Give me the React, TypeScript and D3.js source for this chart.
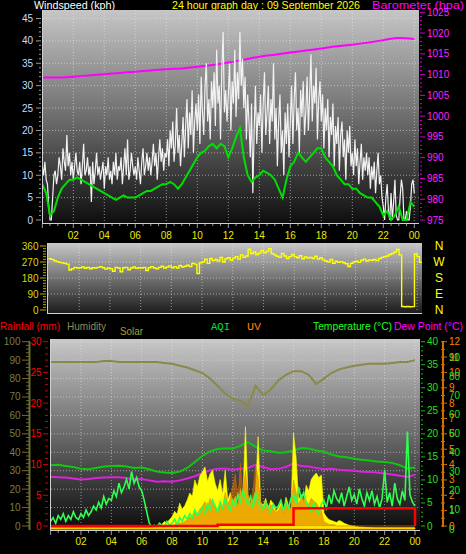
import React from "react";
import * as d3 from "d3";

const FONT = "'Liberation Sans', Arial, sans-serif";

const hourLabels = ["02", "04", "06", "08", "10", "12", "14", "16", "18", "20", "22", "00"];
const labelHours = [2, 4, 6, 8, 10, 12, 14, 16, 18, 20, 22, 24];
const compassLabels = ["N", "W", "S", "E", "N"];
const compassDeg = [360, 270, 180, 90, 0];

// wind gust, kph, every 5 minutes
const windGust = [
  12, 10, 13, 9, 8, 3, 0, 0, 5, 10, 11, 8,
  10, 14, 12, 9, 16, 13, 11, 19, 12, 15, 10, 13,
  9, 12, 15, 11, 10, 13, 8, 12, 17, 10, 11, 14,
  10, 12, 4, 13, 8, 11, 15, 10, 12, 9, 11, 13,
  7, 12, 10, 14, 9, 11, 8, 13, 10, 15, 9, 12,
  11, 14, 8, 12, 16, 10, 18, 9, 11, 15, 12, 10,
  12, 9, 14, 11, 8, 13, 16, 10, 12, 15, 11, 14,
  10, 13, 17, 12, 15, 9, 14, 18, 13, 16, 11, 15,
  14, 18, 12, 20, 16, 22, 13, 17, 25, 15, 19, 12,
  17, 23, 14, 21, 27, 16, 24, 19, 29, 15, 22, 26,
  20, 28, 17, 32, 24, 19, 30, 35, 22, 27, 18, 31,
  25, 33, 21, 38, 26, 30, 18, 34, 42, 24, 29, 22,
  28, 35, 20, 31, 26, 38, 23, 33, 27, 42, 30, 36,
  25, 32, 18, 28, 22, 14, 26, 6, 20, 30, 17, 24,
  21, 28, 15, 26, 33, 19, 24, 30, 17, 27, 22, 35,
  18, 25, 12, 22, 28, 15, 20, 10, 24, 17, 26, 14,
  22, 30, 17, 27, 33, 20, 25, 15, 29, 23, 31, 19,
  24, 32, 20, 28, 37, 22, 30, 26, 34, 18, 27, 31,
  22, 28, 16, 25, 20, 27, 14, 23, 19, 26, 12, 21,
  17, 23, 11, 19, 22, 14, 18, 9, 20, 15, 21, 12,
  15, 10, 18, 12, 16, 8, 13, 17, 9, 14, 11, 15,
  10, 14, 7, 12, 9, 13, 6, 11, 15, 8, 10, 5,
  3, 0, 5, 8, 2, 0, 6, 0, 4, 9, 1, 0,
  0, 5, 9, 7, 0, 0, 2, 0, 0, 3, 8, 9,
  6,
];

// average wind, kph, every 15 minutes
const windAvg = [
  8, 6, 1, 2, 5, 7, 8, 9, 9, 9.5, 9, 8.5, 8, 7.5, 7, 6.5,
  6, 5.5, 5, 4.5, 5, 5.5, 5, 5, 5, 5.5, 6, 6.5, 6.5, 7, 7.5, 8,
  8, 8.5, 8, 7, 8, 9.5, 11, 12.5, 14, 15, 15.5, 16.5, 17, 16, 17, 16.5,
  14, 16, 18.5, 20.5, 14, 10, 8.5, 9.5, 10, 11, 10.5, 10, 9, 7, 5, 9,
  12, 13, 15, 14, 13, 14, 15, 16, 16, 14, 13, 12, 10, 9, 8, 8,
  7, 7, 6, 5.5, 5, 5, 4, 3, 1, 2, 0, 1, 3, 0, 0, 4,
  3,
];

// barometer, hPa, hourly
const barometer = [
  1009.3, 1009.3, 1009.5, 1009.8, 1010.1, 1010.4, 1010.7, 1011.0, 1011.3, 1011.5,
  1011.9, 1012.3, 1012.9, 1013.6, 1014.3, 1014.8, 1015.3, 1015.8, 1016.3, 1016.8,
  1017.2, 1017.7, 1018.3, 1018.8, 1018.6,
];

// wind direction, degrees, every 10 minutes
const windDir = [
  288, 285, 278, 272, 268, 265, 262, 258, 225, 232, 240, 236,
  238, 242, 235, 240, 232, 238, 236, 240, 244, 238, 230, 236,
  232, 218, 240, 236, 215, 238, 240, 226, 236, 242, 234, 238,
  236, 240, 222, 238, 244, 236, 232, 240, 246, 236, 242, 248,
  238, 244, 236, 250, 242, 246, 252, 244, 262, 258, 205, 266,
  270, 286, 262, 290, 278, 284, 276, 296, 270, 288, 294, 280,
  292, 300, 286, 310, 296, 304, 342, 318, 326, 312, 320, 334,
  322, 330, 345, 318, 310, 302, 296, 318, 304, 290, 300, 312,
  300, 294, 306, 288, 298, 292, 296, 290, 302, 286, 294, 282,
  276, 270, 284, 262, 274, 268, 272, 266, 260, 245, 262, 270,
  274, 268, 280, 286, 276, 282, 280, 284, 278, 290, 296, 300,
  304, 312, 318, 326, 340, 310, 20, 18, 20, 18, 19, 315,
  300, 268, 266,
];

// every 30 minutes
const humidity = [
  89, 89, 89, 89, 89, 89, 89, 89.5, 89.5, 89, 89, 89, 89, 89, 89, 88.5,
  88, 87, 86, 84.5, 83, 80, 76, 72, 69, 68, 65, 76, 71, 74, 79, 82,
  84, 84, 82, 77, 80, 83, 85, 86, 87, 87.5, 88, 88, 88, 88.5, 89, 89,
  90,
];
const temperature = [
  13.2, 13.3, 13.0, 12.8, 12.4, 12.3, 12.6, 12.9, 13.0, 13.1, 12.9, 12.6, 12.7, 12.3, 11.8, 11.6,
  11.5, 11.8, 12.6, 13.9, 15.2, 16.2, 16.7, 16.9, 16.8, 17.4, 18.2, 17.2, 16.4, 16.2, 15.9, 16.0,
  16.4, 16.9, 16.8, 16.4, 16.1, 15.5, 15.1, 14.9, 14.6, 14.4, 14.2, 14.0, 13.9, 13.7, 13.2, 12.5,
  12.7,
];
const dewPoint = [
  10.7, 10.6, 10.5, 10.3, 10.1, 10.2, 10.4, 10.5, 10.6, 10.6, 10.4, 10.1, 10.2, 9.9, 9.6, 9.7,
  9.6, 9.9, 10.3, 10.8, 11.5, 12.1, 12.4, 12.5, 12.2, 12.4, 12.6, 13.3, 12.8, 12.3, 12.4, 12.8,
  13.6, 13.0, 12.9, 12.6, 12.3, 12.4, 12.2, 12.1, 12.0, 11.8, 11.7, 11.6, 11.4, 11.2, 10.9, 10.7,
  11.1,
];
const rainfall = [
  0, 0, 0, 0, 0, 0, 0, 0, 0, 0, 0, 0, 0, 0, 0, 0,
  0, 0, 0, 0, 0, 0, 0.2, 0.2, 0.2, 0.2, 0.2, 0.2, 0.2, 0.2, 0.2, 0.2,
  2.9, 2.9, 2.9, 2.9, 2.9, 2.9, 2.9, 2.9, 2.9, 2.9, 2.9, 2.9, 2.9, 2.9, 2.9, 2.9,
  0,
];

// every 10 minutes
const solar = [
  0, 0, 0, 0, 0, 0, 0, 0, 0, 0, 0, 0,
  0, 0, 0, 0, 0, 0, 0, 0, 0, 0, 0, 0,
  0, 0, 0, 0, 0, 0, 0, 0, 0, 0, 0, 0,
  0, 0, 0, 0, 0, 2, 5, 12, 20, 35, 28, 45,
  60, 90, 75, 134, 100, 120, 150, 188, 170, 258, 220, 280,
  300, 328, 250, 290, 310, 240, 200, 260, 180, 311, 150, 190,
  140, 170, 120, 210, 160, 544, 180, 130, 160, 200, 490, 140,
  120, 160, 100, 150, 130, 90, 110, 140, 80, 165, 120, 100,
  510, 380, 150, 180, 140, 230, 200, 260, 280, 295, 270, 285,
  80, 60, 45, 40, 35, 30, 40, 35, 25, 20, 15, 12,
  10, 8, 6, 5, 4, 3, 2, 1, 0, 0, 0, 0,
  0, 0, 0, 0, 0, 0, 0, 0, 0, 0, 0, 0,
  0,
];
const uvIndex = [
  0, 0, 0, 0, 0, 0, 0, 0, 0, 0, 0, 0,
  0, 0, 0, 0, 0, 0, 0, 0, 0, 0, 0, 0,
  0, 0, 0, 0, 0, 0, 0, 0, 0, 0, 0, 0,
  0, 0, 0, 0, 0, 0, 0, 0, 0, 0, 0, 0,
  0, 0.1, 0.1, 0.2, 0.2, 0.3, 0.4, 0.6, 0.5, 0.9, 0.8, 1.1,
  1.3, 1.6, 1.2, 1.8, 1.5, 1.3, 1.0, 1.5, 1.2, 2.2, 1.4, 1.8,
  2.6, 3.4, 1.8, 4.1, 2.2, 3.6, 2.0, 1.6, 2.4, 3.9, 3.2, 1.5,
  1.2, 1.6, 1.0, 1.4, 1.1, 0.9, 1.0, 1.3, 0.8, 1.5, 1.1, 1.2,
  3.0, 2.2, 1.4, 1.8, 2.0, 1.6, 1.4, 1.8, 1.6, 1.5, 1.2, 1.0,
  0.3, 0.2, 0.1, 0.1, 0.1, 0, 0, 0, 0, 0, 0, 0,
  0, 0, 0, 0, 0, 0, 0, 0, 0, 0, 0, 0,
  0, 0, 0, 0, 0, 0, 0, 0, 0, 0, 0, 0,
  0,
];
const aqi = [
  4, 6, 3, 7, 5, 8, 4, 7, 5, 9, 6, 5,
  8, 6, 10, 7, 9, 12, 10, 14, 11, 17, 13, 16,
  15, 20, 17, 24, 19, 22, 26, 21, 30, 24, 27, 22,
  20, 15, 9, 3, 1, 2, 1, 3, 2, 1, 4, 2,
  3, 5, 2, 6, 4, 7, 5, 8, 6, 10, 7, 9,
  11, 8, 13, 10, 15, 12, 9, 14, 11, 16, 12, 10,
  15, 12, 18, 14, 20, 16, 13, 17, 11, 19, 14, 12,
  10, 14, 12, 9, 13, 11, 12, 15, 10, 14, 11, 16,
  18, 13, 22, 16, 19, 14, 12, 9, 14, 10, 8, 13,
  15, 11, 18, 13, 20, 16, 14, 19, 12, 17, 22, 15,
  18, 13, 21, 16, 12, 19, 15, 20, 13, 17, 11, 16,
  31, 14, 19, 12, 24, 16, 13, 20, 15, 51, 18, 14,
  12,
];

const windTicks = [0, 5, 10, 15, 20, 25, 30, 35, 40, 45];
const baroTicks = [975, 980, 985, 990, 995, 1000, 1005, 1010, 1015, 1020, 1025];
const dirTicks = [0, 90, 180, 270, 360];
const humTicks = [0, 10, 20, 30, 40, 50, 60, 70, 80, 90, 100];
const rainTicks = [0, 5, 10, 15, 20, 25, 30];
const tempTicks = [0, 5, 10, 15, 20, 25, 30, 35, 40];
const uvTicks = [0, 1, 2, 3, 4, 5, 6, 7, 8, 9, 10, 11, 12];
const aqiTicks = [0, 10, 20, 30, 40, 50, 60, 70, 80, 90];

export default function App() {
  // ---------- top panel ----------
  const xT = d3.scaleLinear().domain([0, 24]).range([42.3, 414.3]);
  const yW = d3.scaleLinear().domain([0, 45]).range([220, 18.5]);
  const yB = d3.scaleLinear().domain([975, 1025]).range([220, 12.3]);
  const gustPath = d3.line<number>().x((_, i) => xT(i / 12)).y((d) => yW(d))(windGust) || "";
  const avgPath = d3.line<number>().x((_, i) => xT(i / 4)).y((d) => yW(d))(windAvg) || "";
  const baroPath = d3.line<number>().x((_, i) => xT(i)).y((d) => yB(d)).curve(d3.curveMonotoneX)(barometer) || "";

  // ---------- middle panel ----------
  const xM = d3.scaleLinear().domain([0, 24]).range([48.5, 417]);
  const yD = d3.scaleLinear().domain([0, 360]).range([310, 246]);
  const dirPath = d3.line<number>().x((_, i) => xM(i / 6)).y((d) => yD(d)).curve(d3.curveStepAfter)(windDir) || "";

  // ---------- bottom panel ----------
  const xBt = d3.scaleLinear().domain([0, 24]).range([50.6, 415]);
  const yH = d3.scaleLinear().domain([0, 100]).range([526, 341.7]);
  const yR = d3.scaleLinear().domain([0, 30]).range([526, 341.7]);
  const yTp = d3.scaleLinear().domain([0, 40]).range([526, 341.7]);
  const yUV = d3.scaleLinear().domain([0, 12]).range([526, 341.7]);
  const yAQ = d3.scaleLinear().domain([0, 100]).range([529, 338]);
  const ySo = d3.scaleLinear().domain([0, 1000]).range([528, 341.7]);

  const humPath = d3.line<number>().x((_, i) => xBt(i / 2)).y((d) => yH(d))(humidity) || "";
  const tempPath = d3.line<number>().x((_, i) => xBt(i / 2)).y((d) => yTp(d))(temperature) || "";
  const dewPath = d3.line<number>().x((_, i) => xBt(i / 2)).y((d) => yTp(d))(dewPoint) || "";
  const rainPath = d3.line<number>().x((_, i) => xBt(i / 2)).y((d) => yR(d)).curve(d3.curveStepAfter)(rainfall) || "";
  const solarPath = d3.area<number>().x((_, i) => xBt(i / 6)).y0(ySo(0)).y1((d) => ySo(d))(solar) || "";
  const uvPath = d3.area<number>().x((_, i) => xBt(i / 6)).y0(yUV(0)).y1((d) => yUV(d))(uvIndex) || "";
  const aqiPath = d3.line<number>().x((_, i) => xBt(i / 6)).y((d) => yAQ(d))(aqi) || "";

  const dot = "1,2";
  const gridCol = "rgba(235,235,235,0.55)";

  return (
    <svg
      width={466}
      height={554}
      style={{ position: "fixed", left: 0, top: 0, background: "#000" }}
      fontFamily={FONT}
    >
      <defs>
        <linearGradient id="gTop" x1="0" y1="0" x2="0" y2="1">
          <stop offset="0" stopColor="#c6c6c6" />
          <stop offset="0.5" stopColor="#6e6e6e" />
          <stop offset="1" stopColor="#0e0e0e" />
        </linearGradient>
        <linearGradient id="gMid" x1="0" y1="0" x2="0" y2="1">
          <stop offset="0" stopColor="#c8c8c8" />
          <stop offset="1" stopColor="#1c1c1c" />
        </linearGradient>
        <linearGradient id="gBot" x1="0" y1="0" x2="0" y2="1">
          <stop offset="0" stopColor="#c8c8c8" />
          <stop offset="0.5" stopColor="#6a6a6a" />
          <stop offset="1" stopColor="#0c0c0c" />
        </linearGradient>
        <clipPath id="cTop"><rect x={42} y={10} width={377} height={213} /></clipPath>
        <clipPath id="cMid"><rect x={47} y={243} width={375} height={70} /></clipPath>
        <clipPath id="cBot"><rect x={50} y={339} width={370} height={191} /></clipPath>
      </defs>
      <rect x={0} y={0} width={466} height={554} fill="#000" />

      {/* ===== headers ===== */}
      <text x={34} y={9} fontSize={11} fill="#ffffff" textLength={81} lengthAdjust="spacingAndGlyphs">Windspeed (kph)</text>
      <text x={172} y={9} fontSize={11} fill="#ffff00" textLength={188} lengthAdjust="spacingAndGlyphs">24 hour graph day : 09 September 2026</text>
      <text x={372} y={9} fontSize={11} fill="#ff00ff" textLength={92} lengthAdjust="spacingAndGlyphs">Barometer (hpa)</text>

      {/* ===== TOP PANEL ===== */}
      <rect x={42} y={10} width={377} height={213} fill="url(#gTop)" />
      {labelHours.map((h) => (
        <line key={"tv" + h} x1={xT(h)} x2={xT(h)} y1={10} y2={222} stroke={gridCol} strokeDasharray={dot} />
      ))}
      {windTicks.filter((v) => v > 0).map((v) => (
        <line key={"th" + v} x1={43} x2={419} y1={yW(v)} y2={yW(v)} stroke={gridCol} strokeDasharray={dot} />
      ))}
      <g clipPath="url(#cTop)">
        <path d={baroPath} fill="none" stroke="#ff00ff" strokeWidth={2} />
        <path d={gustPath} fill="none" stroke="#f2f2f2" strokeWidth={1.2} />
        <path d={avgPath} fill="none" stroke="#00e000" strokeWidth={2} />
      </g>
      <line x1={42.5} x2={42.5} y1={10} y2={224} stroke="#d0d0d0" />
      <line x1={42} x2={419} y1={223.5} y2={223.5} stroke="#d0d0d0" />
      {/* left axis */}
      {d3.range(0, 46).map((v) => (
        <line key={"wm" + v} x1={v % 5 === 0 ? 36 : 39} x2={41} y1={yW(v)} y2={yW(v)} stroke="#9a9a9a" />
      ))}
      {windTicks.map((v) => (
        <text key={"wl" + v} x={33} y={yW(v)} fontSize={10} fill="#c4dcff" textAnchor="end" dominantBaseline="central">{v}</text>
      ))}
      {/* right axis */}
      {d3.range(975, 1026).map((v) => (
        <line key={"bm" + v} x1={420} x2={v % 5 === 0 ? 425 : 422} y1={yB(v)} y2={yB(v)} stroke="#d000d0" />
      ))}
      {baroTicks.map((v) => (
        <text key={"bl" + v} x={427} y={yB(v)} fontSize={10} fill="#ff20ff" dominantBaseline="central">{v}</text>
      ))}
      {/* x axis */}
      {d3.range(0, 49).map((i) => (
        <line key={"xt" + i} x1={xT(i / 2)} x2={xT(i / 2)} y1={224} y2={i % 4 === 0 ? 228 : 226} stroke="#9a9a9a" />
      ))}
      {hourLabels.map((s, i) => (
        <text key={"xl" + s} x={xT(labelHours[i])} y={235} fontSize={10} fill="#e8e800" textAnchor="middle" dominantBaseline="central">{s}</text>
      ))}

      {/* ===== MIDDLE PANEL ===== */}
      <rect x={47} y={243} width={375} height={70} fill="url(#gMid)" />
      {labelHours.map((h) => (
        <line key={"mv" + h} x1={xM(h)} x2={xM(h)} y1={243} y2={312} stroke={gridCol} strokeDasharray={dot} />
      ))}
      {[90, 180, 270].map((v) => (
        <line key={"mh" + v} x1={48} x2={422} y1={yD(v)} y2={yD(v)} stroke={gridCol} strokeDasharray={dot} />
      ))}
      <g clipPath="url(#cMid)">
        <path d={dirPath} fill="none" stroke="#ffff00" strokeWidth={1.4} />
      </g>
      <line x1={47.5} x2={47.5} y1={243} y2={314} stroke="#d0d0d0" />
      <line x1={47} x2={422} y1={313.5} y2={313.5} stroke="#d0d0d0" />
      {d3.range(0, 361, 15).map((v) => (
        <line key={"dm" + v} x1={v % 90 === 0 ? 40 : 43} x2={46} y1={yD(v)} y2={yD(v)} stroke="#b0b000" />
      ))}
      {dirTicks.map((v) => (
        <text key={"dl" + v} x={38.5} y={yD(v)} fontSize={10} fill="#d8d800" textAnchor="end" dominantBaseline="central">{v}</text>
      ))}
      {compassLabels.map((s, i) => (
        <text key={"cl" + i} x={439} y={yD(compassDeg[i]) - 0.5} fontSize={12} fill="#ffff00" textAnchor="middle" dominantBaseline="central">{s}</text>
      ))}

      {/* ===== BOTTOM PANEL headers ===== */}
      <text x={0} y={330} fontSize={11} fill="#ff0000" textLength={60} lengthAdjust="spacingAndGlyphs">Rainfall (mm)</text>
      <text x={67} y={330} fontSize={11} fill="#8c8c50" textLength={39} lengthAdjust="spacingAndGlyphs">Humidity</text>
      <text x={120} y={335} fontSize={11} fill="#a0a030" textLength={23} lengthAdjust="spacingAndGlyphs">Solar</text>
      <text x={211} y={330} fontSize={11} fill="#00e040" fontFamily="'Liberation Mono', monospace" textLength={19} lengthAdjust="spacingAndGlyphs">AQI</text>
      <text x={247} y={330} fontSize={11} fill="#ff8000" fontFamily="'Liberation Mono', monospace" textLength={14} lengthAdjust="spacingAndGlyphs">UV</text>
      <text x={313} y={330} fontSize={11} fill="#20ff20" textLength={79} lengthAdjust="spacingAndGlyphs">Temperature (°C)</text>
      <text x={394} y={330} fontSize={11} fill="#ff00ff" textLength={69} lengthAdjust="spacingAndGlyphs">Dew Point (°C)</text>

      {/* ===== BOTTOM PANEL ===== */}
      <rect x={50} y={339} width={370} height={191} fill="url(#gBot)" />
      {labelHours.map((h) => (
        <line key={"bv" + h} x1={xBt(h)} x2={xBt(h)} y1={339} y2={529} stroke={gridCol} strokeDasharray={dot} />
      ))}
      {humTicks.filter((v) => v > 0).map((v) => (
        <line key={"bh" + v} x1={51} x2={420} y1={yH(v)} y2={yH(v)} stroke={gridCol} strokeDasharray={dot} />
      ))}
      <g clipPath="url(#cBot)">
        <path d={humPath} fill="none" stroke="#8a8a48" strokeWidth={2} />
        <path d={tempPath} fill="none" stroke="#10c810" strokeWidth={2} />
        <path d={dewPath} fill="none" stroke="#e020e0" strokeWidth={2} />
        <path d={solarPath} fill="#ffff00" stroke="#ffff00" strokeWidth={0.6} />
        <path d={uvPath} fill="#e07000" fillOpacity={0.6} stroke="#e07000" strokeOpacity={0.7} strokeWidth={0.6} />
        <path d={aqiPath} fill="none" stroke="#30ff50" strokeWidth={1.6} />
        <line x1={xBt(0)} x2={xBt(24)} y1={528.5} y2={528.5} stroke="#ffd000" strokeWidth={2} />
        <path d={rainPath} fill="none" stroke="#ff0000" strokeWidth={2.5} />
      </g>
      <line x1={50.5} x2={50.5} y1={339} y2={531} stroke="#d0d0d0" />
      <line x1={50} x2={420} y1={530.5} y2={530.5} stroke="#d0d0d0" />
      {/* humidity axis */}
      <line x1={29.5} x2={29.5} y1={341} y2={530} stroke="#6e6e34" strokeWidth={2} />
      {d3.range(0, 101, 2).map((v) => (
        <line key={"hm" + v} x1={v % 10 === 0 ? 22 : 26} x2={29} y1={yH(v)} y2={yH(v)} stroke="#6e6e34" />
      ))}
      {humTicks.map((v) => (
        <text key={"hl" + v} x={20.5} y={yH(v)} fontSize={10} fill="#7c7c44" textAnchor="end" dominantBaseline="central">{v}</text>
      ))}
      {/* rain axis */}
      {d3.range(0, 31).map((v) => (
        <line key={"rm" + v} x1={v % 5 === 0 ? 43 : 45} x2={48} y1={yR(v)} y2={yR(v)} stroke="#d00000" />
      ))}
      {rainTicks.map((v) => (
        <text key={"rl" + v} x={41.5} y={yR(v)} fontSize={10} fill="#ff0000" textAnchor="end" dominantBaseline="central">{v}</text>
      ))}
      {/* temperature axis */}
      {d3.range(0, 41).map((v) => (
        <line key={"tm" + v} x1={421} x2={v % 5 === 0 ? 425 : 423} y1={yTp(v)} y2={yTp(v)} stroke="#10c010" />
      ))}
      {tempTicks.map((v) => (
        <text key={"tl" + v} x={427} y={yTp(v)} fontSize={10} fill="#20e020" dominantBaseline="central">{v}</text>
      ))}
      {/* UV axis */}
      <line x1={443} x2={443} y1={341} y2={527} stroke="#d07000" strokeWidth={2} />
      {d3.range(0, 12.01, 0.5).map((v) => (
        <line key={"um" + v} x1={441} x2={Number.isInteger(v) ? 447 : 445} y1={yUV(v)} y2={yUV(v)} stroke="#d07000" />
      ))}
      {uvTicks.map((v) => (
        <text key={"ul" + v} x={449} y={yUV(v)} fontSize={10} fill="#ff8000" dominantBaseline="central">{v}</text>
      ))}
      {aqiTicks.map((v) => (
        <text key={"al" + v} x={449} y={yAQ(v)} fontSize={10} fill="#20e020" dominantBaseline="central">{v}</text>
      ))}
      {/* bottom x axis */}
      {d3.range(0, 49).map((i) => (
        <line key={"bt" + i} x1={xBt(i / 2)} x2={xBt(i / 2)} y1={531} y2={i % 4 === 0 ? 535 : 533} stroke="#9a9a9a" />
      ))}
      {hourLabels.map((s, i) => (
        <text key={"bl" + s} x={xBt(labelHours[i])} y={541} fontSize={10} fill="#e8e800" textAnchor="middle" dominantBaseline="central">{s}</text>
      ))}
    </svg>
  );
}
